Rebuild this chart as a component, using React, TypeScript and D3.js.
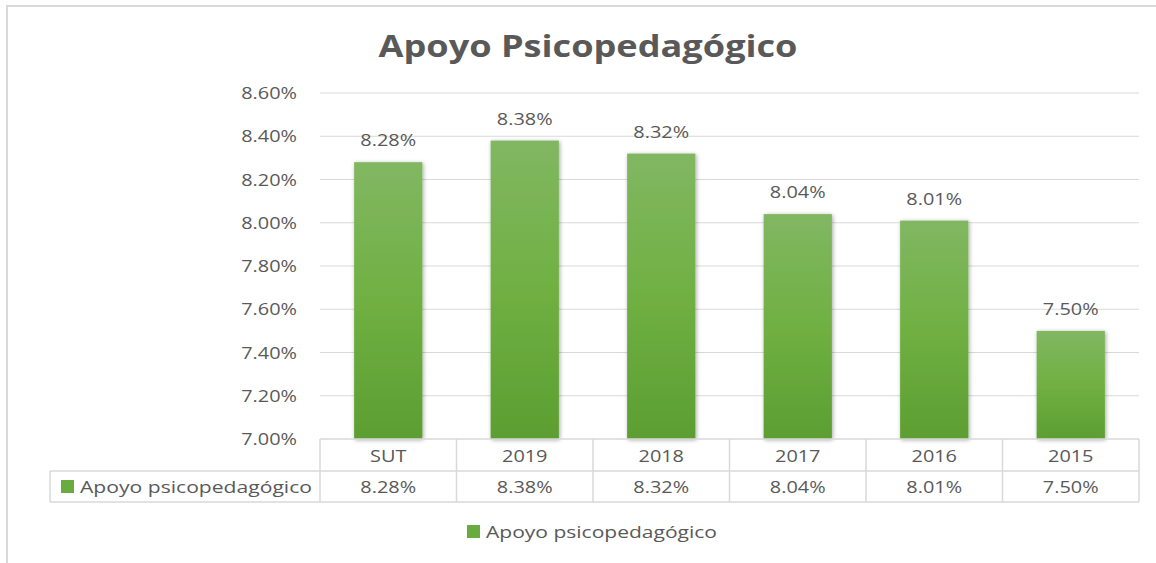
import React from "react";
import * as d3 from "d3";

const categories = ["SUT", "2019", "2018", "2017", "2016", "2015"];
const values = [8.28, 8.38, 8.32, 8.04, 8.01, 7.5];
const ticks = [7.0, 7.2, 7.4, 7.6, 7.8, 8.0, 8.2, 8.4, 8.6];
const seriesName = "Apoyo psicopedagógico";
const title = "Apoyo Psicopedagógico";

const font = "'Open Sans', sans-serif";
const txt = "#595959";

function T(props: { x: number; y: number; anchor?: string; size?: number; children: any; sx?: number }) {
  const sx = props.sx ?? 1.17;
  return (
    <text
      transform={`translate(${props.x},${props.y}) scale(${sx},1)`}
      textAnchor={props.anchor ?? "start"}
      fontFamily={font}
      fontSize={props.size ?? 17}
      fill={txt}
    >
      {props.children}
    </text>
  );
}

export default function App() {
  const W = 1156, H = 563;
  const left = 320, right = 1139, top = 93, bottom = 439;
  const x = d3.scaleBand<string>().domain(categories).range([left, right]).paddingInner(0.5).paddingOuter(0.25);
  const y = d3.scaleLinear().domain([7.0, 8.6]).range([bottom, top]);
  const colStep = (right - left) / categories.length;
  const row1 = 471, row2 = 502;
  const grid = "#d9d9d9";
  return (
    <svg width={W} height={H} style={{ position: "absolute", left: 0, top: 0, background: "#fff" }}>
      <defs>
        <linearGradient id="barg" x1="0" y1="0" x2="0" y2="1">
          <stop offset="0" stopColor="#81b762" />
          <stop offset="0.5" stopColor="#70b042" />
          <stop offset="1" stopColor="#5c9e31" />
        </linearGradient>
        <filter id="sh" x="-20%" y="-5%" width="140%" height="110%">
          <feGaussianBlur in="SourceAlpha" stdDeviation="2" />
          <feOffset dx="1" dy="1" result="b" />
          <feComponentTransfer><feFuncA type="linear" slope="0.35" /></feComponentTransfer>
          <feMerge><feMergeNode /><feMergeNode in="SourceGraphic" /></feMerge>
        </filter>
      </defs>
      <line x1={7} y1={6} x2={W} y2={6} stroke="#d9d9d9" strokeWidth={2} />
      <line x1={7} y1={5} x2={7} y2={H} stroke="#d9d9d9" strokeWidth={2} />
      <text x={588} y={57} textAnchor="middle" fontFamily={font} fontWeight="bold" fontSize={30} fill={txt} textLength={419} lengthAdjust="spacingAndGlyphs">{title}</text>
      {ticks.map((t) => (
        <g key={t}>
          {t > 7.0 && <line x1={left} x2={right} y1={y(t)} y2={y(t)} stroke={grid} strokeWidth={1} />}
          <T x={297} y={y(t) + 6} anchor="end">{t.toFixed(2) + "%"}</T>
        </g>
      ))}
      {categories.map((c, i) => (
        <g key={c}>
          <rect x={x(c)!} y={y(values[i])} width={x.bandwidth()} height={bottom - y(values[i])} fill="url(#barg)" filter="url(#sh)" />
          <T x={x(c)! + x.bandwidth() / 2} y={y(values[i]) - 16} anchor="middle">{values[i].toFixed(2) + "%"}</T>
        </g>
      ))}
      <g stroke={grid} strokeWidth={1.5} fill="none">
        <line x1={left} x2={right} y1={bottom} y2={bottom} />
        <line x1={50} x2={right} y1={row1} y2={row1} />
        <line x1={50} x2={right} y1={row2} y2={row2} />
        <line x1={50} x2={50} y1={row1} y2={row2} />
        {d3.range(categories.length + 1).map((k) => (
          <line key={k} x1={left + k * colStep} x2={left + k * colStep} y1={bottom} y2={row2} />
        ))}
      </g>
      {categories.map((c, i) => (
        <g key={"t" + c}>
          <T x={left + (i + 0.5) * colStep} y={row1 - 9} anchor="middle">{c}</T>
          <T x={left + (i + 0.5) * colStep} y={row2 - 9} anchor="middle">{values[i].toFixed(2) + "%"}</T>
        </g>
      ))}
      <rect x={61} y={480} width={13} height={13} fill="#6aab3f" />
      <text x={80} y={row2 - 9} fontFamily={font} fontSize={17} fill={txt} textLength={232} lengthAdjust="spacingAndGlyphs">{seriesName}</text>
      <rect x={467} y={525} width={13} height={13} fill="#6aab3f" />
      <text x={486} y={538} fontFamily={font} fontSize={17} fill={txt} textLength={231} lengthAdjust="spacingAndGlyphs">{seriesName}</text>
    </svg>
  );
}
